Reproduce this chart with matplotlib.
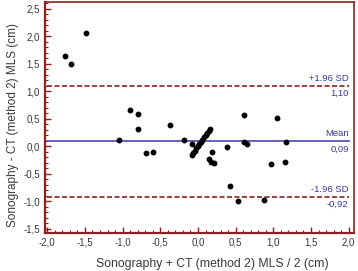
import matplotlib.pyplot as plt
from matplotlib.ticker import MultipleLocator, FuncFormatter

plt.rcParams["font.family"] = ["Liberation Sans", "DejaVu Sans"]

# mean of the two methods (x) and difference (y), cm
avg = [-1.77, -1.68, -1.48, -1.05, -0.90, -0.79, -0.80, -0.69, -0.60, -0.37,
       -0.19, -0.08, -0.08, -0.06, -0.04, -0.02, 0.00, 0.02, 0.04, 0.06,
       0.08, 0.10, 0.12, 0.14, 0.16, 0.19, 0.14, 0.17, 0.21, 0.39,
       0.42, 0.53, 0.61, 0.61, 0.65, 0.87, 0.97, 1.05, 1.15, 1.17]
diff = [1.64, 1.50, 2.05, 0.12, 0.65, 0.59, 0.31, -0.13, -0.10, 0.39,
        0.11, 0.04, -0.16, -0.12, -0.08, -0.04, 0.00, 0.04, 0.08, 0.12,
        0.16, 0.20, 0.24, 0.28, 0.32, -0.11, -0.24, -0.28, -0.30, -0.01,
        -0.73, -0.99, 0.56, 0.07, 0.03, -0.97, -0.32, 0.51, -0.28, 0.08]

mean_diff = 0.09
upper = 1.10
lower = -0.92

red = "#8e2020"
blue = "#4848aa"
txt_blue = "#3a3a9c"
grey = "#3a3a3a"

fig = plt.figure(figsize=(3.58, 2.71), dpi=100)
ax = fig.add_axes([0.1257, 0.140, 0.863, 0.8526])

ax.plot(avg, diff, "o", color="black", markersize=3.2, zorder=3)

ax.plot([-2, 2], [mean_diff, mean_diff], color=blue, lw=1.2)
ax.plot([-2, 2], [upper, upper], color=red, lw=1.2, ls=(0, (3, 1.5)))
ax.plot([-2, 2], [lower, lower], color=red, lw=1.2, ls=(0, (3, 1.5)))

fmt = FuncFormatter(lambda v, p: f"{v:.2f}".replace(".", ","))
for y, lab in [(upper, "+1.96 SD"), (mean_diff, "Mean"), (lower, "-1.96 SD")]:
    ax.text(2.0, y + 0.05, lab, ha="right", va="bottom", color=txt_blue, fontsize=6.8)
    ax.text(2.0, y - 0.06, fmt(y), ha="right", va="top", color=txt_blue, fontsize=6.8)

ax.set_xlim(-2.03, 2.07)
ax.set_ylim(-1.58, 2.62)

ax.xaxis.set_major_locator(MultipleLocator(0.5))
ax.xaxis.set_minor_locator(MultipleLocator(0.1))
ax.yaxis.set_major_locator(MultipleLocator(0.5))
ax.yaxis.set_minor_locator(MultipleLocator(0.1))
tick_fmt = FuncFormatter(lambda v, p: f"{v:.1f}".replace(".", ","))
ax.xaxis.set_major_formatter(tick_fmt)
ax.yaxis.set_major_formatter(tick_fmt)

ax.tick_params(which="both", direction="in", color=red, labelcolor=grey,
               labelsize=7, top=False, right=False)
ax.tick_params(which="major", length=4, width=1)
ax.tick_params(which="minor", length=2, width=0.8)

for side in ["left", "bottom"]:
    ax.spines[side].set_color(red)
    ax.spines[side].set_linewidth(1.6)
for side in ["top", "right"]:
    ax.spines[side].set_color(red)
    ax.spines[side].set_linewidth(1.2)

ax.set_xlabel("Sonography + CT (method 2) MLS / 2 (cm)", fontsize=8.8, color=grey)
ax.xaxis.set_label_coords(0.54, -0.11)
ax.set_ylabel("Sonography - CT (method 2) MLS (cm)", fontsize=8.5, color=grey)
ax.yaxis.set_label_coords(-0.085, 0.468)

fig.savefig("out.png", dpi=100)
